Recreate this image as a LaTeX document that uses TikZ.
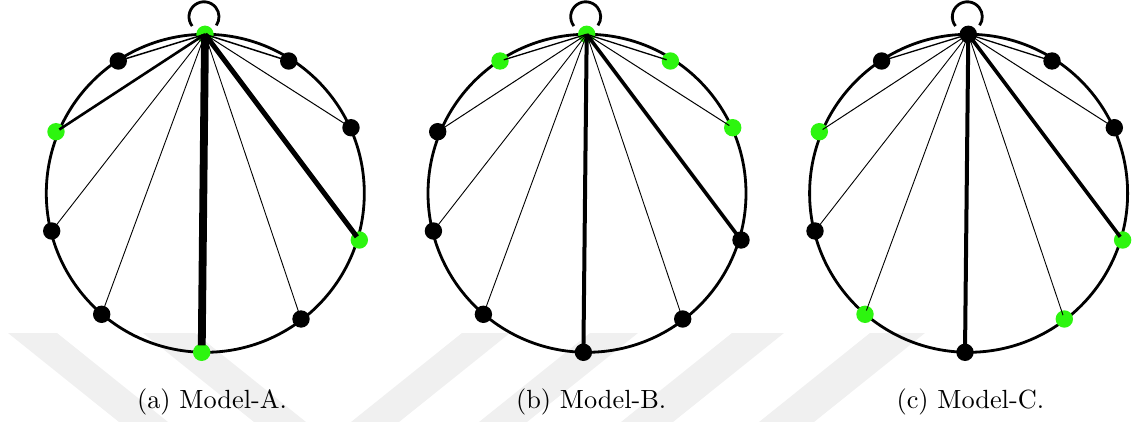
\documentclass[tikz,border=0pt]{standalone}
\usepackage{fontspec}
\newfontfamily\capfont{lmroman10-regular.otf}
\definecolor{ngreen}{RGB}{45,245,15}
\tikzset{
  vtx/.style={circle, fill=#1, draw=none, inner sep=0pt, minimum size=17.4pt},
  ring/.style={line width=2.8pt},
  wm/.style={fill=black!6, draw=none},
  lbl/.style={font=\capfont\fontsize{26.3}{30}\selectfont, anchor=base, inner sep=0pt},
  edg/.style={line width=#1, shorten >=4pt},
  edgb/.style={line width=#1, shorten >=7pt},
}
\begin{document}
\begin{tikzpicture}[x=1pt,y=-1pt]
\useasboundingbox (0,0) rectangle (1139,422);
% watermark
\fill[wm] (8,333) -- (57,333) -- (168,422) -- (119,422) -- cycle;
\fill[wm] (143,333) -- (195,333) -- (306,422) -- (254,422) -- cycle;
\fill[wm] (462,333) -- (510,333) -- (399,422) -- (351,422) -- cycle;
\fill[wm] (590,333) -- (638,333) -- (527,422) -- (479,422) -- cycle;
\fill[wm] (732,333) -- (784,333) -- (673,422) -- (621,422) -- cycle;
\fill[wm] (870,333) -- (925,333) -- (814,422) -- (759,422) -- cycle;

% ---------- Model A ----------
\begin{scope}
\draw[ring] (205.3,193.3) circle[radius=159];
\node[vtx=ngreen] (A0) at (205,34.3) {};
\node[vtx=black]  (A1) at (118.3,61) {};
\node[vtx=black]  (A2) at (288.7,61) {};
\node[vtx=ngreen] (A3) at (56,131.7) {};
\node[vtx=black]  (A4) at (351,127.7) {};
\node[vtx=black]  (A5) at (51.7,231) {};
\node[vtx=ngreen] (A6) at (359.3,240) {};
\node[vtx=black]  (A7) at (101.7,314.3) {};
\node[vtx=black]  (A8) at (301,319) {};
\node[vtx=ngreen] (A9) at (201.7,352.3) {};
\draw[ring] (A0.center) ++(-1,-17.5) ++(142:15) arc[start angle=142, end angle=395, radius=15];
\draw[edg=1.5pt] (A0.center) -- (A1.center);
\draw[edg=1.5pt] (A0.center) -- (A2.center);
\draw[edg=2.6pt] (A0.center) -- (A3.center);
\draw[edg=1pt]   (A0.center) -- (A4.center);
\draw[edg=0.9pt] (A0.center) -- (A5.center);
\draw[edg=5pt]   (A0.center) -- (A6.center);
\draw[edg=0.9pt] (A0.center) -- (A7.center);
\draw[edg=0.9pt] (A0.center) -- (A8.center);
\draw[edgb=7.8pt] (A0.center) -- (A9.center);
\node[lbl] (capA) at (212,408) {(a) Model-A.};
\end{scope}

% ---------- Model B ----------
\begin{scope}[xshift=381.7pt]
\draw[ring] (205.3,193.3) circle[radius=159];
\node[vtx=ngreen] (B0) at (205,34.3) {};
\node[vtx=ngreen] (B1) at (118.3,61) {};
\node[vtx=ngreen] (B2) at (288.7,61) {};
\node[vtx=black]  (B3) at (56,131.7) {};
\node[vtx=ngreen] (B4) at (351,127.7) {};
\node[vtx=black]  (B5) at (51.7,231) {};
\node[vtx=black]  (B6) at (359.3,240) {};
\node[vtx=black]  (B7) at (101.7,314.3) {};
\node[vtx=black]  (B8) at (301,319) {};
\node[vtx=black]  (B9) at (201.7,352.3) {};
\draw[ring] (B0.center) ++(-1,-17.5) ++(142:15) arc[start angle=142, end angle=395, radius=15];
\draw[edg=1.3pt] (B0.center) -- (B1.center);
\draw[edg=1.3pt] (B0.center) -- (B2.center);
\draw[edg=1pt]   (B0.center) -- (B3.center);
\draw[edg=1pt]   (B0.center) -- (B4.center);
\draw[edg=0.9pt] (B0.center) -- (B5.center);
\draw[edg=3.6pt] (B0.center) -- (B6.center);
\draw[edg=0.9pt] (B0.center) -- (B7.center);
\draw[edg=0.9pt] (B0.center) -- (B8.center);
\draw[edg=4pt]   (B0.center) -- (B9.center);
\node[lbl] (capB) at (209.5,408) {(b) Model-B.};
\end{scope}

% ---------- Model C ----------
\begin{scope}[xshift=763.3pt]
\draw[ring] (205.3,193.3) circle[radius=159];
\node[vtx=black]  (C0) at (205,34.3) {};
\node[vtx=black]  (C1) at (118.3,61) {};
\node[vtx=black]  (C2) at (288.7,61) {};
\node[vtx=ngreen] (C3) at (56,131.7) {};
\node[vtx=black]  (C4) at (351,127.7) {};
\node[vtx=black]  (C5) at (51.7,231) {};
\node[vtx=ngreen] (C6) at (359.3,240) {};
\node[vtx=ngreen] (C7) at (101.7,314.3) {};
\node[vtx=ngreen] (C8) at (301,319) {};
\node[vtx=black]  (C9) at (201.7,352.3) {};
\draw[ring] (C0.center) ++(-1,-17.5) ++(142:15) arc[start angle=142, end angle=395, radius=15];
\draw[edg=1.3pt] (C0.center) -- (C1.center);
\draw[edg=1.3pt] (C0.center) -- (C2.center);
\draw[edg=1pt]   (C0.center) -- (C3.center);
\draw[edg=1pt]   (C0.center) -- (C4.center);
\draw[edg=0.9pt] (C0.center) -- (C5.center);
\draw[edg=3.6pt] (C0.center) -- (C6.center);
\draw[edg=0.9pt] (C0.center) -- (C7.center);
\draw[edg=0.9pt] (C0.center) -- (C8.center);
\draw[edg=4pt]   (C0.center) -- (C9.center);
\node[lbl] (capC) at (207,408) {(c) Model-C.};
\end{scope}
\end{tikzpicture}
\end{document}
